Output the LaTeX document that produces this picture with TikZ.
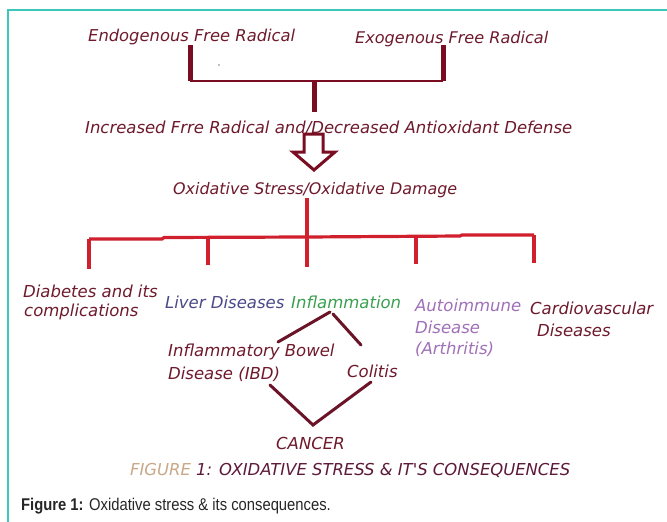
\documentclass[tikz,border=0pt]{standalone}
\usepackage{graphicx}
\usepackage{fontspec}
\newfontfamily\capfont{Liberation Sans}
\newfontfamily\hand{DejaVu Sans}
\definecolor{teal1}{HTML}{3CC8B8}
\definecolor{mar}{HTML}{6E1A2C}
\definecolor{barred}{HTML}{7B0D22}
\definecolor{treered}{HTML}{D0202E}
\definecolor{brmar}{HTML}{6B1428}
\definecolor{liver}{HTML}{4A4A8A}
\definecolor{infl}{HTML}{3AA050}
\definecolor{auto}{HTML}{A070B8}
\definecolor{tan}{HTML}{C8A888}
\definecolor{capmar}{HTML}{5C1A3A}
\newcommand{\fw}[2]{\resizebox{#1pt}{!}{#2}}
\tikzset{
  lbl/.style={inner sep=0pt, anchor=west, text=mar, font=\hand\itshape\fontsize{16.5}{19}\selectfont},
  bar/.style={draw=barred, line width=5pt},
  thinbar/.style={draw=barred, line width=2pt},
  tree/.style={draw=treered, line width=3.2pt},
  branch/.style={draw=brmar, line width=3pt, line cap=round},
  frame/.style={draw=teal1, line width=1.6pt},
}
\begin{document}
\begin{tikzpicture}[x=1pt,y=-1pt]
\useasboundingbox[fill=white] (0,0) rectangle (667,522);
% frame
\draw[frame] (667,10) -- (8,10) -- (8,522);
% top texts
\node[lbl] (endo) at (88,37) {\fw{207}{Endogenous Free Radical}};
\node[lbl] (exo) at (355,39) {\fw{193}{Exogenous Free Radical}};
\node[lbl] (incr) at (85,128) {\fw{487}{Increased Frre Radical and/Decreased Antioxidant Defense}};
\node[lbl] (ox) at (173,190) {\fw{284}{Oxidative Stress/Oxidative Damage}};
% top connectors
\coordinate (lt) at (190,45);
\coordinate (lb) at (190,81);
\coordinate (rt) at (443,45);
\coordinate (rb) at (443,81);
\coordinate (mt) at (314,81);
\coordinate (mb) at (314,112);
\draw[bar] (lt) -- (lb);
\draw[bar] (rt) -- (rb);
\draw[thinbar] (lb) -- (rb);
\draw[bar] (mt) -- (mb);
\fill[gray] (219,65) circle (0.9);
% hollow arrow
\draw[draw=barred, line width=3pt, line join=miter]
  (304,134) -- (323,134) -- (323,152) -- (335,152) -- (314,170) -- (293,152) -- (304,152) -- cycle;
% disease labels
\node[lbl, text=mar] (diab1) at (23,291) {Diabetes and its};
\node[lbl, text=mar] (diab2) at (24,312) {complications};
\node[lbl, text=liver] (liver) at (165,302) {Liver Diseases};
\node[lbl, text=infl] (infl) at (291,302) {Inflammation};
\node[lbl, text=auto] (auto1) at (415,305) {Autoimmune};
\node[lbl, text=auto] (auto2) at (415,327) {Disease};
\node[lbl, text=auto] (auto3) at (415,349) {(Arthritis)};
\node[lbl, text=mar] (card1) at (530,308) {Cardiovascular};
\node[lbl, text=mar] (card2) at (537,330) {Diseases};
% red tree
\coordinate (ot) at (307,198);
\coordinate (d1) at (89,239);
\coordinate (d2) at (208,238);
\coordinate (d3) at (307,237);
\coordinate (d4) at (416,236);
\coordinate (d5) at (534,235);
\draw[tree] (ot) -- (d3);
\draw[tree] (d1) -- (162,239) -- (164,237.5) -- (d3) -- (460,236) -- (462,235) -- (d5);
\draw[tree] (d1) -- ++(0,30);
\draw[tree] (d2) -- ++(0,27);
\draw[tree] (d3) -- ++(0,30);
\draw[tree] (d4) -- ++(0,28);
\draw[tree] (d5) -- ++(0,28);
% lower part
\node[lbl] (ibd1) at (168,352) {Inflammatory Bowel};
\node[lbl] (ibd2) at (168,374) {Disease (IBD)};
\node[lbl] (col) at (347,371) {Colitis};
\node[lbl] (can) at (276,443) {CANCER};
\coordinate (ia) at (330,312);
\coordinate (ib) at (333,314);
\coordinate (il) at (278,342);
\coordinate (ir) at (361,345);
\draw[branch] (ia) -- (il);
\draw[branch] (ib) -- (ir);
\coordinate (vl) at (270,385);
\coordinate (vb) at (313,425);
\coordinate (vr) at (371,382);
\draw[branch] (vl) -- (vb) -- (vr);
% figure titles
\node[lbl] (figt) at (130,470) {\fw{440}{\textcolor{tan}{FIGURE} \textcolor{capmar}{1: OXIDATIVE STRESS \& IT'S CONSEQUENCES}}};
\node[inner sep=0pt, anchor=west, text=black!85, font=\capfont\fontsize{17}{20}\selectfont] (cap) at (21,506) {\scalebox{0.87}[1]{\textbf{Figure 1:} Oxidative stress \& its consequences.}};
\end{tikzpicture}
\end{document}
